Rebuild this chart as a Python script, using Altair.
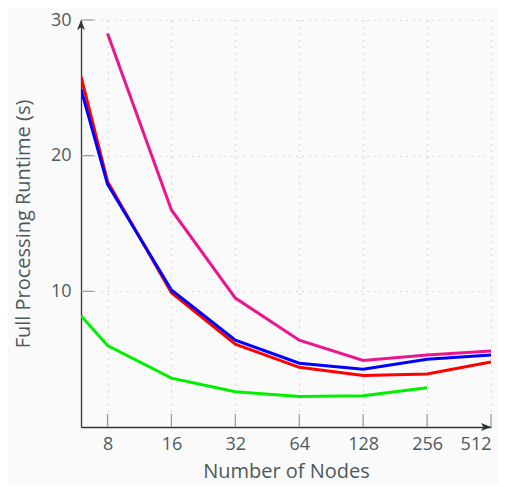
import altair as alt
import pandas as pd

nodes = [6, 8, 16, 32, 64, 128, 256, 512]
red_vals = [25.85, 18.1, 9.9, 6.1, 4.4, 3.8, 3.9, 4.8]
blue_vals = [24.9, 17.9, 10.1, 6.4, 4.7, 4.25, 5.0, 5.3]
magenta_vals = [None, 29.0, 16.0, 9.5, 6.4, 4.9, 5.3, 5.6]
green_vals = [8.2, 6.0, 3.6, 2.6, 2.25, 2.3, 2.9, None]

x_ticks = [8, 16, 32, 64, 128, 256, 512]
y_ticks = [10, 20, 30]
x_domain = [6, 512]
y_domain = [0, 30]

series = [
    ("green", green_vals, "#00f000"),
    ("red", red_vals, "#ff0000"),
    ("blue", blue_vals, "#0000ff"),
    ("magenta", magenta_vals, "#ec1590"),
]

W, H = 410, 407
TXT = "#4e5a5a"
AX = "#2c3838"
FONT = "Open Sans"

xscale = alt.Scale(type="log", base=2, domain=x_domain, nice=False)
yscale = alt.Scale(domain=y_domain, nice=False)

xaxis = alt.Axis(values=x_ticks, format="d", grid=True, ticks=False,
                 title="Number of Nodes", labelPadding=8, titlePadding=8)
yaxis = alt.Axis(values=y_ticks, format="d", grid=True, ticks=False,
                 title="Full Processing Runtime (s)", labelPadding=10,
                 titlePadding=17)


def xenc(field, first=False):
    if first:
        return alt.X(field, scale=xscale, axis=xaxis)
    return alt.X(field, scale=xscale)


def yenc(field, first=False):
    if first:
        return alt.Y(field, scale=yscale, axis=yaxis)
    return alt.Y(field, scale=yscale)


layers = []
for i, (name, vals, color) in enumerate(series):
    df = pd.DataFrame({"nodes": nodes, "runtime": vals}).dropna()
    layers.append(
        alt.Chart(df).mark_line(color=color, strokeWidth=3, clip=True).encode(
            x=xenc("nodes:Q", i == 0), y=yenc("runtime:Q", i == 0))
    )

# inward ticks
xt = pd.DataFrame({"nodes": x_ticks})
layers.append(
    alt.Chart(xt).mark_rule(color="#9a9a9a", strokeWidth=1.2).encode(
        x=xenc("nodes:Q"), y=alt.value(H), y2=alt.value(H - 13))
)
yt = pd.DataFrame({"runtime": y_ticks})
layers.append(
    alt.Chart(yt).mark_rule(color="#9a9a9a", strokeWidth=1.2).encode(
        y=yenc("runtime:Q"), x=alt.value(0), x2=alt.value(13))
)

# arrow heads at the axis ends
up = pd.DataFrame({"nodes": [x_domain[0]], "runtime": [y_domain[1]]})
layers.append(
    alt.Chart(up).mark_point(
        shape="M0,0 L0.8,2 L0,1.5 L-0.8,2 Z", size=100, filled=True,
        color=AX, opacity=1).encode(x=xenc("nodes:Q"), y=yenc("runtime:Q"))
)
right = pd.DataFrame({"nodes": [x_domain[1]], "runtime": [y_domain[0]]})
layers.append(
    alt.Chart(right).mark_point(
        shape="M0,0 L-2,-0.8 L-1.5,0 L-2,0.8 Z", size=100, filled=True,
        color=AX, opacity=1).encode(x=xenc("nodes:Q"), y=yenc("runtime:Q"))
)

chart = alt.layer(*layers).properties(
    width=W, height=H,
    autosize=alt.AutoSizeParams(type="none"),
    padding={"left": 73, "top": 12, "right": 8, "bottom": 57},
    background="#fafafa",
).configure_view(stroke=None).configure_axis(
    labelFont=FONT, titleFont=FONT, labelFontSize=18, titleFontSize=20,
    labelColor=TXT, titleColor=TXT, titleFontWeight="normal",
    domainColor=AX, domainWidth=1.3,
    gridColor="#cfcfcf", gridDash=[1.5, 5], gridWidth=1.2,
)

chart.save("out.html", embed_options={"renderer": "svg", "actions": False})
